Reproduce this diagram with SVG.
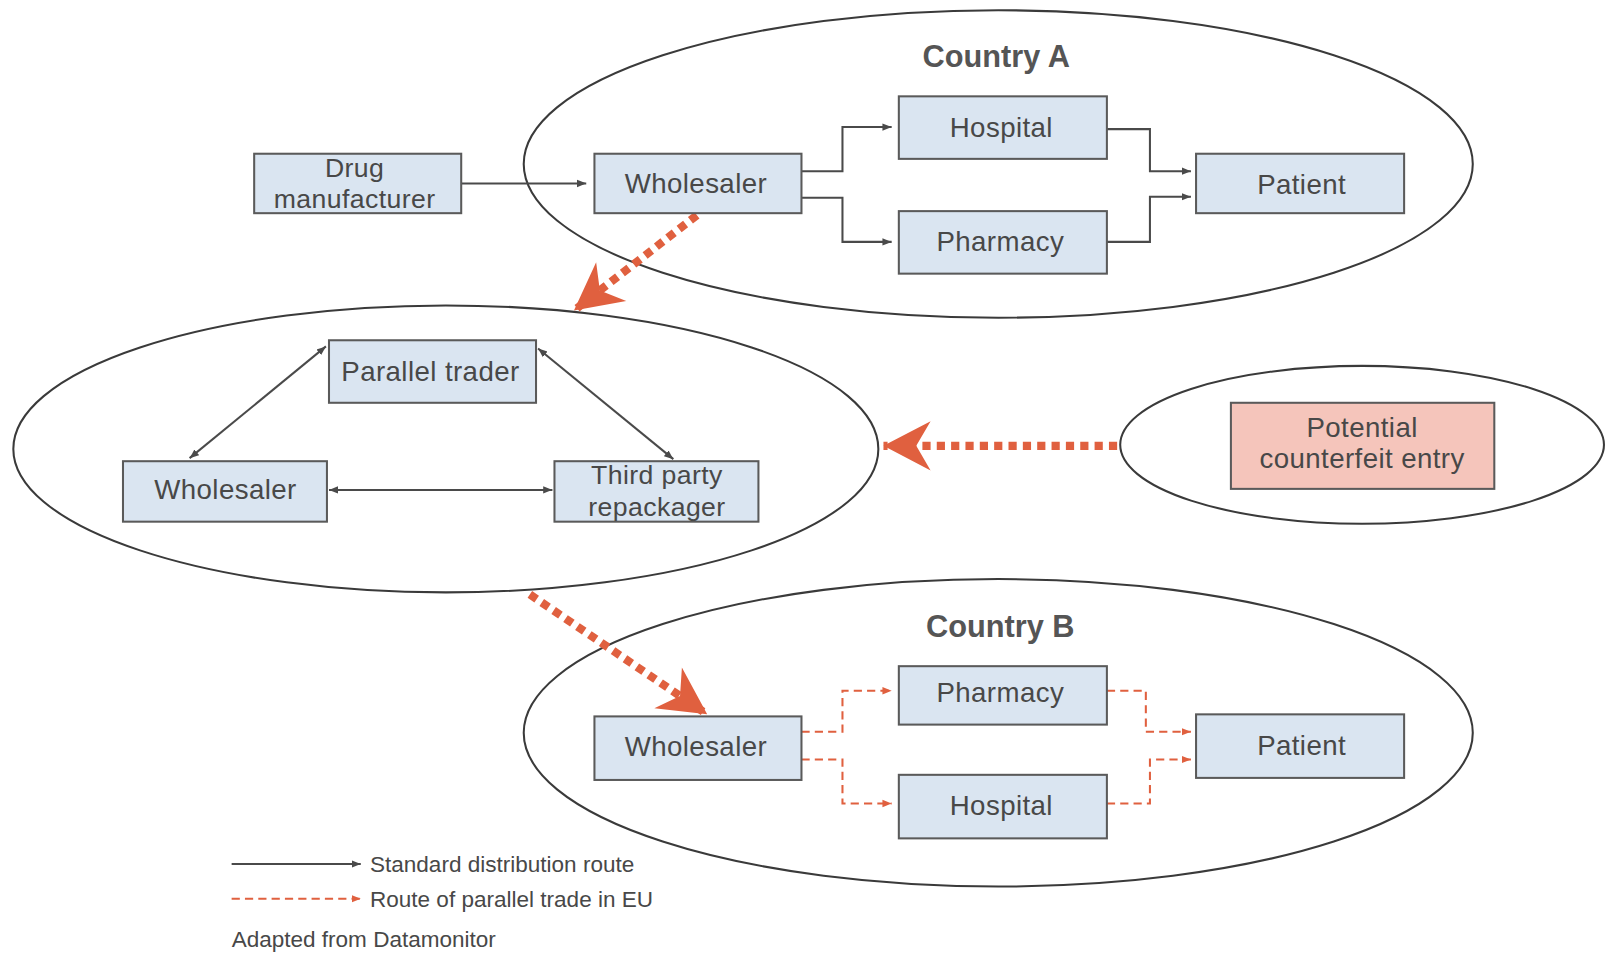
<svg xmlns="http://www.w3.org/2000/svg" width="1607" height="954" viewBox="0 0 1607 954">
<style>
.ell{fill:none;stroke:#3a3a3a;stroke-width:2}
.box{fill:#dae5f1;stroke:#5a5a5a;stroke-width:2}
.pink{fill:#f5c5bb;stroke:#5a5a5a;stroke-width:2}
.t{font-family:"Liberation Sans",Arial,sans-serif;font-size:27px;fill:#484848;text-anchor:middle;letter-spacing:0.4px}
.t2{font-family:"Liberation Sans",Arial,sans-serif;font-size:26px;fill:#484848;text-anchor:middle;letter-spacing:0.4px}
.title{font-family:"Liberation Sans",Arial,sans-serif;font-size:30px;font-weight:bold;fill:#555;text-anchor:middle}
.leg{font-family:"Liberation Sans",Arial,sans-serif;font-size:22px;fill:#484848}
.std{fill:none;stroke:#4a4a4a;stroke-width:2}
.par{fill:none;stroke:#e0603f;stroke-width:2;stroke-dasharray:8 5}
.big{fill:none;stroke:#e0603f;stroke-width:8;stroke-dasharray:8 6}
</style>
<defs>
<marker id="a" viewBox="0 0 10 10" refX="10" refY="5" markerWidth="9" markerHeight="9" markerUnits="userSpaceOnUse" orient="auto-start-reverse"><path d="M0,1 L10,5 L0,9 Z" fill="#4a4a4a"/></marker>
<marker id="ar" viewBox="0 0 10 10" refX="10" refY="5" markerWidth="9" markerHeight="9" markerUnits="userSpaceOnUse" orient="auto"><path d="M0,1 L10,5 L0,9 Z" fill="#e0603f"/></marker>
<marker id="big" viewBox="-48 -26 50 52" refX="0" refY="0" markerWidth="50" markerHeight="52" markerUnits="userSpaceOnUse" orient="auto"><path d="M0,0 L-46,-24 L-32,0 L-46,24 Z" fill="#e0603f"/></marker>
</defs>
<rect width="1607" height="954" fill="#fff"/>
<g transform="scale(1.0249)">
<g id="regions">
<ellipse class="ell" cx="974" cy="160" rx="463" ry="150"/>
<ellipse class="ell" cx="435" cy="438" rx="422" ry="140"/>
<ellipse class="ell" cx="1329" cy="434" rx="236" ry="77"/>
<ellipse class="ell" cx="974" cy="715" rx="463" ry="150"/>
<text class="title" x="972" y="65">Country A</text>
<text class="title" x="976" y="622">Country B</text>
</g>
<g id="connectors">
<path class="std" d="M450,179 H572" marker-end="url(#a)"/>
<path class="std" d="M782,167 H822 V124 H870" marker-end="url(#a)"/>
<path class="std" d="M782,193 H822 V236 H870" marker-end="url(#a)"/>
<path class="std" d="M1080,126 H1122 V167 H1162" marker-end="url(#a)"/>
<path class="std" d="M1080,236 H1122 V192 H1162" marker-end="url(#a)"/>
<path class="std" d="M318,338 L185,447" marker-start="url(#a)" marker-end="url(#a)"/>
<path class="std" d="M525,340 L657,448" marker-start="url(#a)" marker-end="url(#a)"/>
<path class="std" d="M321,478 H539" marker-start="url(#a)" marker-end="url(#a)"/>
<path class="par" d="M782,714 H822 V674 H870" marker-end="url(#ar)"/>
<path class="par" d="M782,741 H822 V784 H870" marker-end="url(#ar)"/>
<path class="par" d="M1080,674 H1118 V714 H1162" marker-end="url(#ar)"/>
<path class="par" d="M1080,784 H1122 V741 H1162" marker-end="url(#ar)"/>
<path class="big" d="M680,210 L560,303" marker-end="url(#big)"/>
<path class="big" d="M517,580 L690,697" marker-end="url(#big)"/>
<path class="big" d="M1090,435 L862,435" marker-end="url(#big)"/>
</g>
<g id="drug-manufacturer"><rect class="box" x="248" y="150" width="202" height="58"/><text class="t2" x="346" y="173">Drug</text><text class="t2" x="346" y="203">manufacturer</text></g>
<g id="wholesaler-a"><rect class="box" x="580" y="150" width="202" height="58"/><text class="t" x="679" y="188">Wholesaler</text></g>
<g id="hospital-a"><rect class="box" x="877" y="94" width="203" height="61"/><text class="t" x="977" y="134">Hospital</text></g>
<g id="pharmacy-a"><rect class="box" x="877" y="206" width="203" height="61"/><text class="t" x="976" y="245">Pharmacy</text></g>
<g id="patient-a"><rect class="box" x="1167" y="150" width="203" height="58"/><text class="t" x="1270" y="189">Patient</text></g>
<g id="parallel-trader"><rect class="box" x="321" y="332" width="202" height="61"/><text class="t" x="420" y="372">Parallel trader</text></g>
<g id="wholesaler-mid"><rect class="box" x="120" y="450" width="199" height="59"/><text class="t" x="220" y="487">Wholesaler</text></g>
<g id="third-party-repackager"><rect class="box" x="541" y="450" width="199" height="59"/><text class="t2" x="641" y="472">Third party</text><text class="t2" x="641" y="503">repackager</text></g>
<g id="potential-counterfeit-entry"><rect class="pink" x="1201" y="393" width="257" height="84"/><text class="t" x="1329" y="426">Potential</text><text class="t" x="1329" y="457">counterfeit entry</text></g>
<g id="wholesaler-b"><rect class="box" x="580" y="699" width="202" height="62"/><text class="t" x="679" y="738">Wholesaler</text></g>
<g id="pharmacy-b"><rect class="box" x="877" y="650" width="203" height="57"/><text class="t" x="976" y="685">Pharmacy</text></g>
<g id="hospital-b"><rect class="box" x="877" y="756" width="203" height="62"/><text class="t" x="977" y="795">Hospital</text></g>
<g id="patient-b"><rect class="box" x="1167" y="697" width="203" height="62"/><text class="t" x="1270" y="737">Patient</text></g>
<g id="legend">
<path class="std" d="M226,843 H352" marker-end="url(#a)"/>
<text class="leg" x="361" y="851">Standard distribution route</text>
<path class="par" d="M226,877 H352" marker-end="url(#ar)"/>
<text class="leg" x="361" y="885">Route of parallel trade in EU</text>
<text class="leg" x="226" y="924">Adapted from Datamonitor</text>
</g>
</g>
</svg>
